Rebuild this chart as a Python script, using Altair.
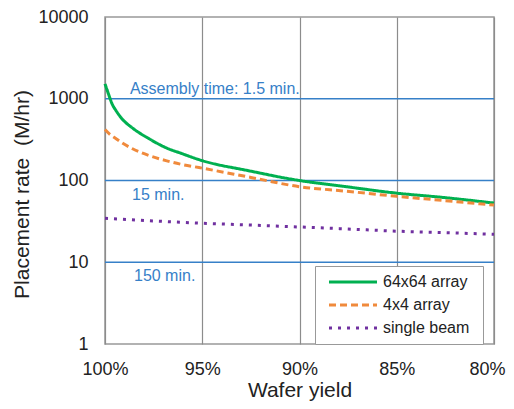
import altair as alt
import pandas as pd

FONT = "Liberation Sans"

# Series data (wafer yield %, placement rate M/hr)
green_x = [100, 99.79, 99.64, 99.43, 99.13, 98.61, 97.74, 96.87, 96.04, 95.17, 92.5, 90, 87.6, 85, 82.6, 80]
green_y = [1520, 1090, 869, 714, 570, 443, 325, 252, 213, 180, 130, 100, 84, 70, 62, 53]

orange_x = [100, 99.79, 99.43, 99.13, 98.61, 97.74, 96.87, 96.04, 95.17, 92.5, 90, 87.6, 85, 82.6, 80]
orange_y = [420, 374, 325, 290, 246, 202, 175, 157, 144, 109, 84, 74, 64, 57, 50]

purple_x = [100, 97.5, 95, 92.5, 90, 87.5, 85, 82.5, 80]
purple_y = [34.5, 32, 30, 28.5, 27, 25.5, 24, 23, 22]

series_names = ["64x64 array", "4x4 array", "single beam"]
series_colors = ["#00b050", "#f08a3c", "#7030a0"]

# Reference assembly-time lines
ref_values = [1000, 100, 10]
ref_labels = ["Assembly time: 1.5 min.", "15 min.", "150 min."]
ref_label_x = [98.72, 98.61, 98.51]
ref_label_pos = ["above", "below", "below"]

x_ticks = [100, 95, 90, 85, 80]
y_ticks = [1, 10, 100, 1000, 10000]

rows = []
for name, xs, ys in zip(series_names, [green_x, orange_x, purple_x], [green_y, orange_y, purple_y]):
    for xv, yv in zip(xs, ys):
        rows.append({"yield": xv, "rate": yv, "series": name})
df = pd.DataFrame(rows)

ref_df = pd.DataFrame({"rate": ref_values, "label": ref_labels, "lx": ref_label_x, "pos": ref_label_pos})

BLUE = "#3680c8"

xscale = alt.Scale(domain=[80, 100], reverse=True, nice=False, zero=False)
yscale = alt.Scale(type="log", domain=[1, 10000], nice=False)

lines = alt.Chart(df).mark_line(interpolate="monotone", strokeWidth=3).encode(
    x=alt.X("yield:Q", scale=xscale,
            axis=alt.Axis(values=x_ticks, labelExpr="datum.value + '%'", title="Wafer yield",
                          grid=True, gridColor="#8c8c8c", gridWidth=1.2, ticks=False, domain=False,
                          labelFlush=False, labelPadding=16, labelFontSize=18, titleFontSize=21,
                          labelOffset={"expr": "datum.value == 80 ? -7 : 0"},
                          titleFontWeight="normal", titleBaseline="alphabetic", titleY=52,
                          labelColor="#222", titleColor="#222", labelFont=FONT, titleFont=FONT)),
    y=alt.Y("rate:Q", scale=yscale,
            axis=alt.Axis(values=y_ticks, format="d", title="Placement rate\u00a0\u00a0(M/hr)",
                          grid=False, ticks=False, domain=False, labelPadding=17, labelFlush=False,
                          labelFontSize=18, titleFontSize=21, titleFontWeight="normal",
                          titleBaseline="alphabetic", titleX=-77, titleY=177,
                          labelColor="#222", titleColor="#222", labelFont=FONT, titleFont=FONT)),
    color=alt.Color("series:N", sort=series_names,
                    scale=alt.Scale(domain=series_names, range=series_colors),
                    legend=alt.Legend(title="\u00a0", titleOrient="right", titlePadding=6,
                                      titleFontSize=16, titleFont=FONT,
                                      orient="none", legendX=210, legendY=249,
                                      symbolType="M0,0H48", symbolSize=4, symbolStrokeWidth=3,
                                      symbolOffset=-2, labelOffset=46, padding=8, rowPadding=7,
                                      labelFontSize=16, labelFont=FONT, labelColor="#222",
                                      strokeColor="#999", fillColor="white")),
    strokeDash=alt.StrokeDash("series:N", sort=series_names,
                              scale=alt.Scale(domain=series_names, range=[[1, 0], [7, 4], [3, 6]]),
                              legend=None),
)

rules = alt.Chart(ref_df).mark_rule(color=BLUE, strokeWidth=1.5).encode(
    y=alt.Y("rate:Q", scale=yscale)
)

text_above = alt.Chart(ref_df).transform_filter(alt.datum.pos == "above").mark_text(
    align="left", baseline="alphabetic", dy=-5, fontSize=16, font=FONT, color=BLUE
).encode(x=alt.X("lx:Q", scale=xscale), y=alt.Y("rate:Q", scale=yscale), text="label:N")

text_below = alt.Chart(ref_df).transform_filter(alt.datum.pos == "below").mark_text(
    align="left", baseline="alphabetic", dy=19, fontSize=16, font=FONT, color=BLUE
).encode(x=alt.X("lx:Q", scale=xscale), y=alt.Y("rate:Q", scale=yscale), text="label:N")

chart = alt.layer(rules, text_above, text_below, lines).properties(
    width=389, height=327,
    autosize=alt.AutoSizeParams(type="none"),
    padding={"left": 97, "top": 9, "right": 12, "bottom": 57},
).configure_view(stroke="#999", strokeWidth=1.5)

chart.save("out.html", embed_options={"renderer": "svg", "actions": False})
